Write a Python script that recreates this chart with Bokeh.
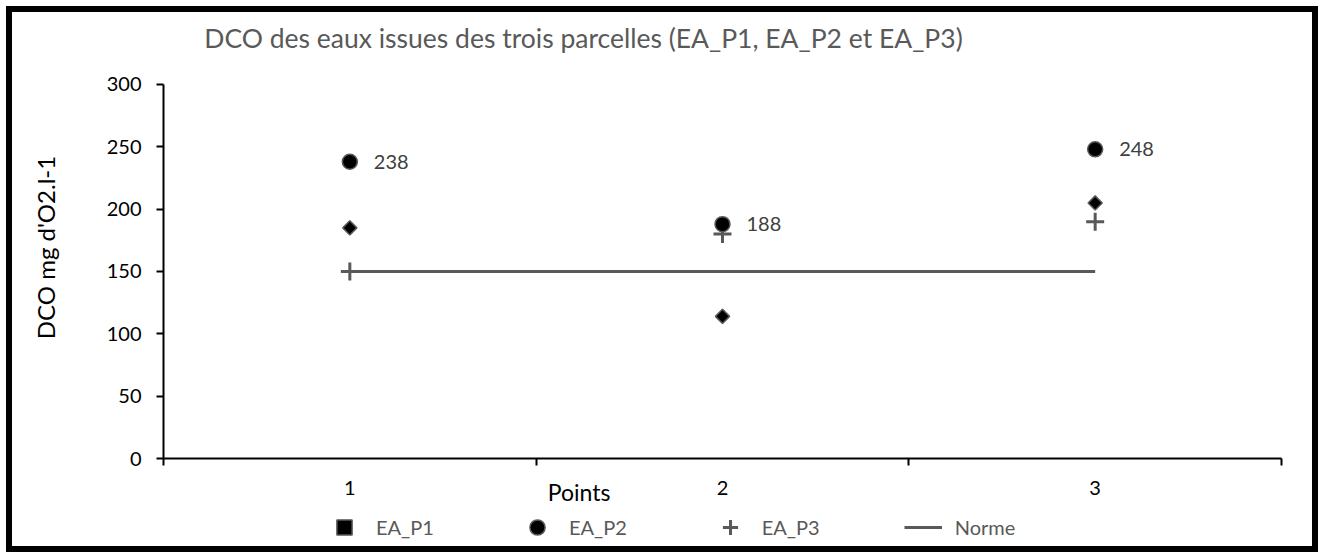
import math
from bokeh.plotting import figure
from bokeh.models import (Range1d, FixedTicker, Label, LabelSet, ColumnDataSource,
                          Legend, LegendItem)
from bokeh.core.properties import value
from bokeh.embed import file_html
from bokeh.resources import INLINE

# ---- data ----
points = [1, 2, 3]
ea_p1 = [185, 114, 205]
ea_p2 = [238, 188, 248]
ea_p3 = [150, 180, 190]
norme = [150, 150, 150]
p2_labels = ["238", "188", "248"]
y_ticks = [0, 50, 100, 150, 200, 250, 300]
title_text = "DCO des eaux issues des trois parcelles (EA_P1, EA_P2 et EA_P3)"
y_label_text = "DCO mg d'O2.l-1"
x_label_text = "Points"

FONT = "Lato"
GREY = "#595959"

# The plot frame fills the whole canvas; the axes are pinned at x=0.5 / y=0
# so that the titles and the legend (drawn inside the frame) are not clipped.
p = figure(width=1312, height=546, output_backend="svg", toolbar_location=None,
           x_range=Range1d(0.0948, 3.6154), y_range=Range1d(-80.21, 357.75),
           min_border=0, min_border_left=0, min_border_top=0,
           min_border_right=0, min_border_bottom=0)
p.styles = {"border": "6px solid black", "margin": "6px 0 0 6px"}
p.outline_line_color = None
p.xgrid.visible = False
p.ygrid.visible = False
p.background_fill_color = "white"
p.border_fill_color = "white"

# x axis: labels at centres, tick marks at category boundaries
xa = p.xaxis[0]
xa.fixed_location = 0
xa.bounds = (0.5, 3.5)
xa.ticker = FixedTicker(ticks=points, minor_ticks=[0.5, 1.5, 2.5, 3.5])
xa.major_tick_line_color = None
xa.major_tick_out = 0
xa.major_tick_in = 0
xa.minor_tick_line_color = "black"
xa.minor_tick_line_width = 2
xa.minor_tick_out = 7
xa.minor_tick_in = 0
xa.axis_line_color = "black"
xa.axis_line_width = 2
xa.major_label_text_font = FONT
xa.major_label_text_font_size = "20px"
xa.major_label_text_color = "black"
xa.major_label_standoff = 15

ya = p.yaxis[0]
ya.fixed_location = 0.5
ya.bounds = (0, 300)
ya.ticker = FixedTicker(ticks=y_ticks)
ya.minor_tick_line_color = None
ya.major_tick_line_color = "black"
ya.major_tick_line_width = 2
ya.major_tick_out = 7
ya.major_tick_in = 0
ya.axis_line_color = "black"
ya.axis_line_width = 2
ya.major_label_text_font = FONT
ya.major_label_text_font_size = "20px"
ya.major_label_text_color = "black"
ya.major_label_standoff = 15

src = ColumnDataSource(dict(x=points, p1=ea_p1, p2=ea_p2, p3=ea_p3, n=norme, lab=p2_labels))

r_norme = p.line("x", "n", source=src, line_color=GREY, line_width=3)
r_p1 = p.scatter("x", "p1", source=src, marker="square", size=10, angle=math.pi / 4,
                 fill_color="black", line_color=GREY, line_width=1.5)
r_p3 = p.scatter("x", "p3", source=src, marker="cross", size=18,
                 line_color=GREY, line_width=3)
r_p2 = p.scatter("x", "p2", source=src, marker="circle", size=15,
                 fill_color="black", line_color=GREY, line_width=1.5)

labels = LabelSet(x="x", y="p2", text="lab", source=src, x_offset=24, y_offset=0,
                  text_baseline="middle", text_align="left",
                  text_font=value(FONT), text_font_size="20px", text_color="#404040")
p.add_layout(labels)

p.add_layout(Label(x=1.627, y=336.9, text=title_text, text_align="center",
                   text_baseline="middle", text_font=FONT, text_font_size="26.5px",
                   text_color=GREY))
p.add_layout(Label(x=0.1834, y=169.25, text=y_label_text, angle=math.pi / 2,
                   text_align="center", text_baseline="middle", text_font=FONT,
                   text_font_size="24px", text_color="black"))
p.add_layout(Label(x=1.615, y=-26.47, text=x_label_text, text_align="center",
                   text_baseline="middle", text_font=FONT, text_font_size="23px",
                   text_color="black"))

legend = Legend(items=[LegendItem(label="EA_P1", renderers=[r_p1]),
                       LegendItem(label="EA_P2", renderers=[r_p2]),
                       LegendItem(label="EA_P3", renderers=[r_p3]),
                       LegendItem(label="Norme", renderers=[r_norme])],
                orientation="horizontal", location=(313, 12),
                padding=0, margin=0, spacing=84, glyph_width=38, glyph_height=38,
                label_standoff=13, label_text_font=FONT, label_text_font_size="20px",
                label_text_color=GREY, border_line_color=None,
                background_fill_alpha=0)
p.add_layout(legend, "center")

open("out.html", "w").write(file_html(p, INLINE))
